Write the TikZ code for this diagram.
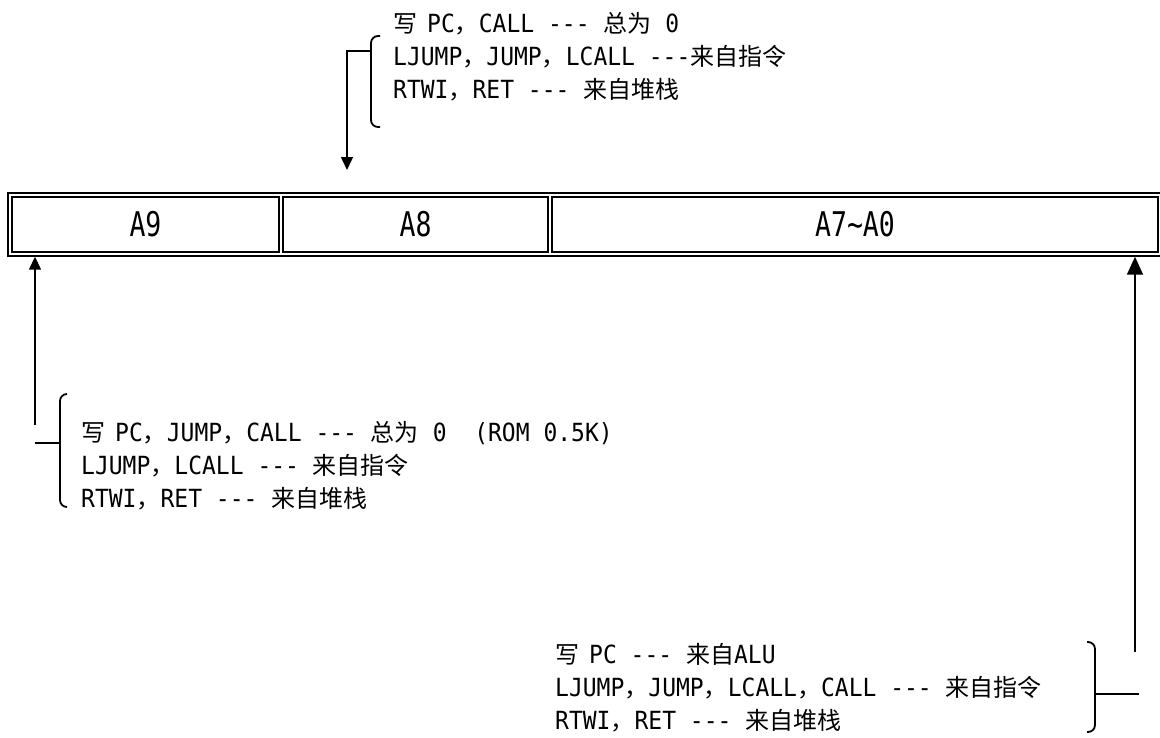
\documentclass[tikz,border=0pt]{standalone}
\usepackage{fontspec}
\setmonofont{DejaVu Sans Mono}[FakeStretch=0.92]
\newfontfamily\cjk{Noto Sans CJK SC}
\newfontfamily\labfont{DejaVu Sans Mono}[FakeStretch=0.78]
\newcommand{\zh}[1]{{\cjk\fontsize{24pt}{\baselineskip}\selectfont #1}}
\usetikzlibrary{arrows.meta,positioning}

\tikzset{
  note/.style={font=\ttfamily\fontsize{25pt}{33pt}\selectfont, align=left, anchor=west, inner sep=0pt},
  cell/.style={draw, line width=1.4pt, minimum height=55pt, inner sep=0pt, font=\labfont\fontsize{34pt}{34pt}\selectfont},
  brace/.style={line width=1.8pt, rounded corners=7pt},
  wire/.style={line width=1.5pt},
  arr/.style={wire, -{Triangle[length=13pt,width=12pt]}},
  bigtip/.style={-{Triangle[length=18pt,width=16pt]}}
}

\begin{document}
\begin{tikzpicture}[x=1pt, y=-1pt]
  \useasboundingbox (0,0) rectangle (1160,737);
  % register
  \node[draw, line width=1.4pt, minimum width=1154pt, minimum height=63pt] (reg) at (585,224.5) {};
  \node[cell, minimum width=267pt] (a9) at (145.5,224.5) {A9};
  \node[cell, minimum width=265pt] (a8) at (415.5,224.5) {A8};
  \node[cell, minimum width=606pt] (a70) at (855,224.5) {A7\textasciitilde A0};

  % notes
  \node[note] (topnote) at (393,57) {\zh{写}\hspace{10pt}PC\zh{，}CALL --- \zh{总为} 0\\LJUMP\zh{，}JUMP\zh{，}LCALL ---\zh{来自指令}\\RTWI\zh{，}RET --- \zh{来自堆栈}};
  \node[note] (leftnote) at (81,466) {\zh{写}\hspace{10pt}PC\zh{，}JUMP\zh{，}CALL --- \zh{总为} 0\ \ (ROM 0.5K)\\LJUMP\zh{，}LCALL --- \zh{来自指令}\\RTWI\zh{，}RET --- \zh{来自堆栈}};
  \node[note] (rightnote) at (555,688) {\zh{写}\hspace{10pt}PC --- \zh{来自}ALU\\LJUMP\zh{，}JUMP\zh{，}LCALL\zh{，}CALL --- \zh{来自指令}\\RTWI\zh{，}RET --- \zh{来自堆栈}};

  % brackets
  \draw[brace] (380,36) -- (371,36) -- (371,127) -- (380,127);
  \draw[brace] (67,394) -- (60,394) -- (60,507) -- (67,507);
  \draw[brace] (1087,642) -- (1095,642) -- (1095,732) -- (1087,732);

  \coordinate (tbr) at (371,51);
  \coordinate (tbend) at (347,51);
  \coordinate (ttip) at (347,170);
  \coordinate (lbr) at (60,443);
  \coordinate (lbend) at (35,443);
  \coordinate (lfoot) at (35,425);
  \coordinate (rbr) at (1095,694);
  \coordinate (rbend) at (1139,694);
  \coordinate (rfoot) at (1135,652);

  % connectors
  \draw[arr] (tbr) -- (tbend) -- (ttip);
  \draw[wire] (lbr) -- (lbend);
  \draw[arr] (lfoot) -- (lfoot |- reg.south);
  \draw[wire] (rbr) -- (rbend);
  \draw[arr, bigtip] (rfoot) -- (rfoot |- reg.south);
\end{tikzpicture}
\end{document}
